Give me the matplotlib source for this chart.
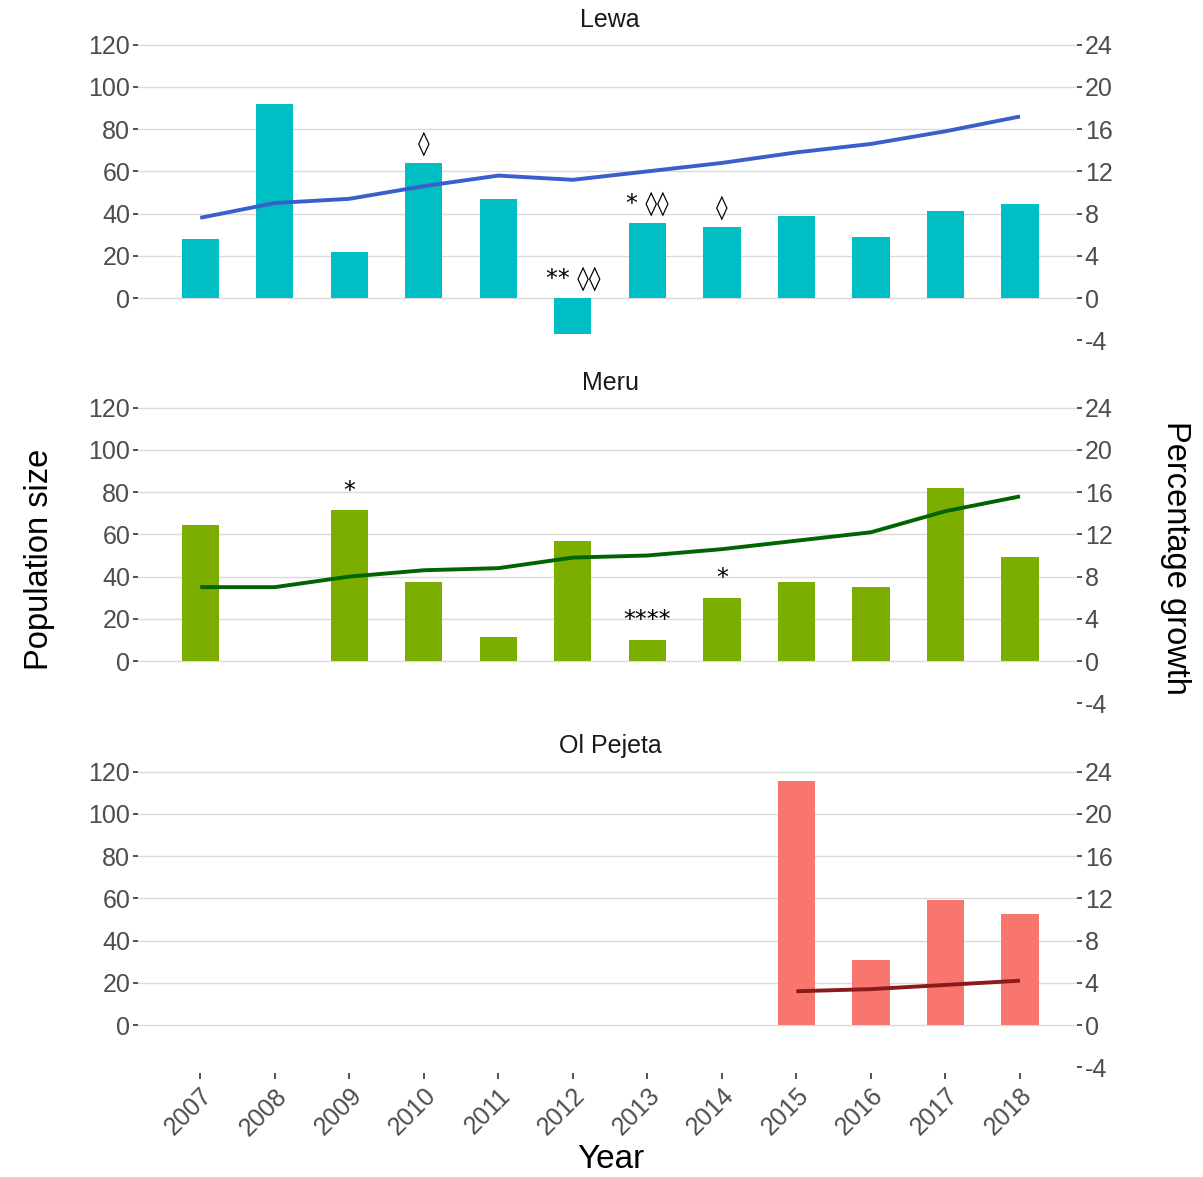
import numpy as np
import matplotlib
matplotlib.use("Agg")
import matplotlib.pyplot as plt

plt.rcParams['font.family'] = ['Liberation Sans', 'DejaVu Sans']

years = [2007, 2008, 2009, 2010, 2011, 2012, 2013, 2014, 2015, 2016, 2017, 2018]
sites = ["Lewa", "Meru", "Ol Pejeta"]

# population size per year
lewa_pop = [38, 45, 47, 53, 58, 56, 60, 64, 69, 73, 79, 86]
meru_pop = [35, 35, 40, 43, 44, 49, 50, 53, 57, 61, 71, 78]
olp_pop = [np.nan] * 8 + [16, 17, 19, 21]

# annual percentage growth
lewa_growth = [5.6, 18.4, 4.4, 12.8, 9.4, -3.4, 7.1, 6.7, 7.8, 5.8, 8.2, 8.9]
meru_growth = [12.9, 0.0, 14.3, 7.5, 2.3, 11.4, 2.0, 6.0, 7.5, 7.0, 16.4, 9.9]
olp_growth = [np.nan] * 8 + [23.1, 6.2, 11.8, 10.5]

# significance markers (year, label)
lewa_marks = [(2010, "\u25CA"), (2012, "** \u25CA\u25CA"), (2013, "* \u25CA\u25CA"), (2014, "\u25CA")]
meru_marks = [(2009, "*"), (2013, "****"), (2014, "*")]
olp_marks = []

pop_series = [lewa_pop, meru_pop, olp_pop]
growth_series = [lewa_growth, meru_growth, olp_growth]
mark_series = [lewa_marks, meru_marks, olp_marks]

bar_colors = ["#00BFC4", "#7CAE00", "#F8766D"]
line_colors = ["#3A5FCD", "#006400", "#8B1A1A"]

pop_ticks = [0, 20, 40, 60, 80, 100, 120]
growth_ticks = [-4, 0, 4, 8, 12, 16, 20, 24]
scale = 5.0  # population units per percentage point
pop_lim = (-22.5, 125.0)

W, H = 1203, 1177
fig = plt.figure(figsize=(W / 100, H / 100), dpi=100)

left_px, right_px = 138, 1077
panel_h = 311.3
bottoms_px = [345.5, 708.5, 1072.5]
title_px = [20, 383, 746]

tick_col = "#4D4D4D"
grid_col = "#DADADA"

for i, site in enumerate(sites):
    rect = [left_px / W, 1 - bottoms_px[i] / H, (right_px - left_px) / W, panel_h / H]
    ax = fig.add_axes(rect)          # growth (bars), right side
    ax2 = ax.twinx()                 # population (line), left side

    ax.set_ylim(pop_lim[0] / scale, pop_lim[1] / scale)
    ax2.set_ylim(*pop_lim)
    ax.set_xlim(2006.165, 2018.765)

    for t in pop_ticks:
        ax.axhline(t / scale, color=grid_col, lw=1.0, zorder=0)

    g = np.array(growth_series[i], dtype=float)
    ax.bar(years, g, width=0.5, color=bar_colors[i], zorder=2)

    p = np.array(pop_series[i], dtype=float)
    ax2.plot(years, p, color=line_colors[i], lw=2.8, zorder=3, solid_capstyle='butt')

    for yr, lab in mark_series[i]:
        v = g[years.index(yr)]
        ax.annotate(lab, xy=(yr, max(v, 0.0)), xytext=(0, 14), textcoords='offset points',
                    ha='center', va='center', fontsize=17, color='black', zorder=4,
                    family=['DejaVu Sans'])

    for a in (ax, ax2):
        for s in a.spines.values():
            s.set_visible(False)

    ax.yaxis.tick_right()
    ax.set_yticks(growth_ticks)
    ax.set_yticklabels([str(t) for t in growth_ticks])
    ax2.yaxis.tick_left()
    ax2.set_yticks(pop_ticks)
    ax2.set_yticklabels([str(t) for t in pop_ticks])
    for a in (ax, ax2):
        a.tick_params(axis='y', labelsize=18, labelcolor=tick_col, color="#333333",
                      length=3.5, width=1.2, pad=2)

    ax.set_xticks(years)
    if i == 2:
        ax.set_xticklabels([str(y) for y in years], rotation=45, ha='right', va='top',
                           rotation_mode='anchor')
        ax.tick_params(axis='x', labelsize=18, labelcolor=tick_col, color="#333333",
                       length=4, width=1.2, pad=4)
    else:
        ax.tick_params(axis='x', length=0, labelbottom=False)
    ax2.tick_params(axis='x', length=0, labelbottom=False)

    fig.text(610 / W, 1 - title_px[i] / H, site, ha='center', va='center',
             fontsize=18, color="#1A1A1A")

fig.text(40 / W, 1 - 559 / H, "Population size", rotation=90, ha='center', va='center',
         fontsize=23.5, color='black')
fig.text(1175 / W, 1 - 558 / H, "Percentage growth", rotation=270, ha='center', va='center',
         fontsize=23.5, color='black')
fig.text(611 / W, 1 - 1160 / H, "Year", ha='center', va='center', fontsize=24, color='black')

fig.savefig("out.png", dpi=100, facecolor='white')
